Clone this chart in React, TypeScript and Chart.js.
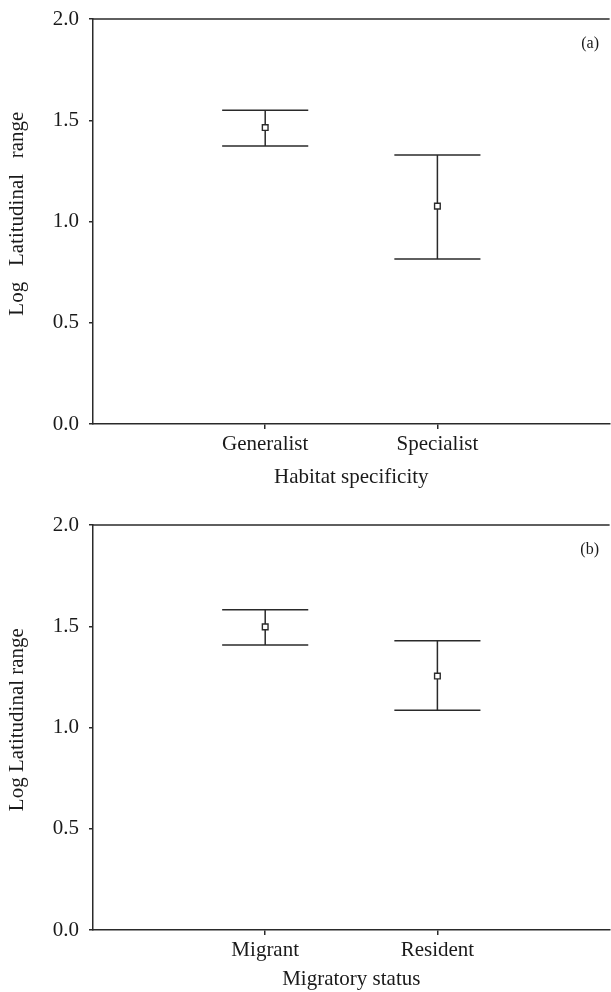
import React, { useEffect, useRef } from 'react';
import { Chart, registerables } from 'chart.js';

Chart.register(...registerables);

// ---- Data ----
const habitatCategories = ['Generalist', 'Specialist'];
const habitatMeans = [1.464, 1.076];
const habitatUpper = [1.55, 1.328];
const habitatLower = [1.373, 0.815];

const migratoryCategories = ['Migrant', 'Resident'];
const migratoryMeans = [1.497, 1.254];
const migratoryUpper = [1.581, 1.428];
const migratoryLower = [1.408, 1.085];

const yTickValues = [0, 0.5, 1.0, 1.5, 2.0];

// ---- Styles ----
const FONT_FAMILY = '"Liberation Serif", "Times New Roman", serif';
const INK = '#1a1a1a';
const LINE = '#2a2a2a';
const CAP_HALF = 0.25;

const panelDecor = {
  id: 'panelDecor',
  afterDraw(chart: any, _args: any, opts: any) {
    const { ctx, chartArea } = chart;
    ctx.save();
    ctx.strokeStyle = LINE;
    ctx.lineWidth = 1.5;
    ctx.beginPath();
    ctx.moveTo(chartArea.left, chartArea.top);
    ctx.lineTo(chartArea.right, chartArea.top);
    ctx.stroke();
    if (opts && opts.text) {
      ctx.fillStyle = INK;
      ctx.font = `16px ${FONT_FAMILY}`;
      ctx.textAlign = 'right';
      ctx.textBaseline = 'middle';
      ctx.fillText(opts.text, 599, chartArea.top + 25);
    }
    ctx.restore();
  },
};

type PanelProps = {
  categories: string[];
  means: number[];
  upper: number[];
  lower: number[];
  xTitle: string;
  yTitle: string;
  label: string;
  xTitlePad: number;
};

function Panel({ categories, means, upper, lower, xTitle, yTitle, label, xTitlePad }: PanelProps) {
  const ref = useRef<HTMLCanvasElement | null>(null);

  useEffect(() => {
    if (!ref.current) return;
    const font = { family: FONT_FAMILY, size: 21 };
    const lineDs = (pts: { x: number; y: number }[]) => ({
      type: 'line' as const,
      data: pts,
      borderColor: LINE,
      borderWidth: 1.5,
      pointRadius: 0,
      fill: false,
      tension: 0,
      parsing: false as const,
    });

    const datasets: any[] = [
      {
        type: 'scatter',
        data: means.map((m, i) => ({ x: i + 1, y: m })),
        pointStyle: 'rect',
        pointRadius: 4,
        borderWidth: 1.4,
        borderColor: LINE,
        backgroundColor: '#ffffff',
      },
    ];
    categories.forEach((_, i) => {
      const x = i + 1;
      datasets.push(lineDs([{ x, y: lower[i] }, { x, y: upper[i] }]));
      datasets.push(lineDs([{ x: x - CAP_HALF, y: upper[i] }, { x: x + CAP_HALF, y: upper[i] }]));
      datasets.push(lineDs([{ x: x - CAP_HALF, y: lower[i] }, { x: x + CAP_HALF, y: lower[i] }]));
    });

    const chart = new Chart(ref.current, {
      type: 'scatter',
      data: { datasets },
      options: {
        animation: false,
        responsive: false,
        layout: { padding: { top: 19, left: 0, right: 0, bottom: 0 } },
        plugins: {
          legend: { display: false },
          tooltip: { enabled: false },
          panelDecor: { text: label },
        } as any,
        scales: {
          x: {
            type: 'linear',
            min: 0,
            max: 3,
            afterFit: (s: any) => {
              s.height = 82;
              s.paddingLeft = 0;
              s.paddingRight = 0;
            },
            afterBuildTicks: (s: any) => {
              s.ticks = categories.map((_, i) => ({ value: i + 1 }));
            },
            ticks: {
              callback: (v: any) => categories[Number(v) - 1] ?? '',
              font,
              color: INK,
              padding: 3,
              autoSkip: false,
              maxRotation: 0,
            },
            grid: {
              drawOnChartArea: false,
              drawTicks: true,
              tickLength: 5,
              color: LINE,
              lineWidth: 1.5,
            },
            border: { display: true, color: LINE, width: 1.5 },
            title: {
              display: true,
              text: xTitle,
              font,
              color: INK,
              padding: { top: 0, bottom: xTitlePad },
            },
          },
          y: {
            type: 'linear',
            min: 0,
            max: 2,
            afterFit: (s: any) => {
              s.width = 93;
              s.paddingTop = 0;
              s.paddingBottom = 0;
            },
            afterBuildTicks: (s: any) => {
              s.ticks = yTickValues.map((v) => ({ value: v }));
            },
            ticks: {
              callback: (v: any) => Number(v).toFixed(1),
              font,
              color: INK,
              padding: 10,
            },
            grid: {
              drawOnChartArea: false,
              drawTicks: true,
              tickLength: 4,
              color: LINE,
              lineWidth: 1.5,
            },
            border: { display: true, color: LINE, width: 1.5 },
            title: {
              display: true,
              text: yTitle,
              font,
              color: INK,
              padding: { top: 5, bottom: 0 },
            },
          },
        },
      } as any,
      plugins: [panelDecor],
    });
    return () => chart.destroy();
  }, [categories, means, upper, lower, xTitle, yTitle, label, xTitlePad]);

  return (
    <canvas
      ref={ref}
      width={615}
      height={506}
      style={{ display: 'block', width: 615, height: 506 }}
    />
  );
}

export default function App() {
  return (
    <div
      style={{
        position: 'absolute',
        left: 0,
        top: 0,
        width: 611,
        height: 992,
        overflow: 'hidden',
        background: '#ffffff',
      }}
    >
      <Panel
        categories={habitatCategories}
        means={habitatMeans}
        upper={habitatUpper}
        lower={habitatLower}
        xTitle="Habitat specificity"
        yTitle="   Log   Latitudinal   range"
        label="(a)"
        xTitlePad={16}
      />
      <Panel
        categories={migratoryCategories}
        means={migratoryMeans}
        upper={migratoryUpper}
        lower={migratoryLower}
        xTitle="Migratory status"
        yTitle="   Log Latitudinal range"
        label="(b)"
        xTitlePad={20}
      />
    </div>
  );
}
